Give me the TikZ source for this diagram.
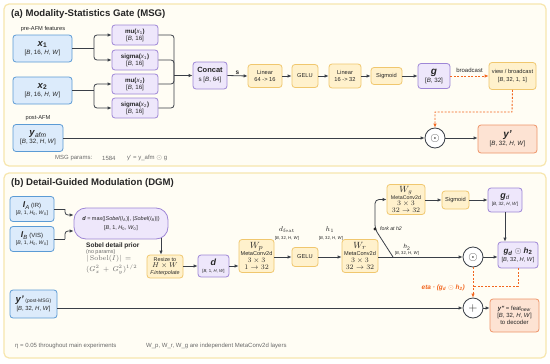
\documentclass[tikz,border=0pt]{standalone}
\usepackage[no-math]{fontspec}
\setmainfont{Liberation Sans}
\usetikzlibrary{arrows.meta,calc}
\definecolor{dark}{HTML}{3A3F47}
\definecolor{txt}{HTML}{262626}
\definecolor{bluD}{HTML}{5B9BD5}
\definecolor{bluF}{HTML}{DCEBFB}
\definecolor{purD}{HTML}{9E86D6}
\definecolor{purF}{HTML}{EEE7FB}
\definecolor{yelD}{HTML}{F0C76E}
\definecolor{yelF}{HTML}{FFF1CC}
\definecolor{orD}{HTML}{EE9468}
\definecolor{orF}{HTML}{FDE3D3}
\definecolor{panD}{HTML}{F7E6AE}
\definecolor{panF}{HTML}{FFFDF4}
\definecolor{accent}{HTML}{F2661F}
\definecolor{greyt}{HTML}{6A6A6A}
\newcommand{\fz}[1]{\fontsize{#1}{#1}\selectfont}
\newcommand{\BHW}[1]{[\textit{B}, #1, \textit{H}, \textit{W}]}
\newcommand{\Bzero}{[\textit{B}, 1, \textit{H}\textsubscript{0}, \textit{W}\textsubscript{0}]}
\tikzset{
  box/.style={rounded corners=3pt, line width=0.8pt, inner sep=0.5pt, align=center, text=txt, font=\fontsize{6.2}{7}\selectfont},
  bbox/.style={box, draw=bluD, fill=bluF},
  pbox/.style={box, draw=purD, fill=purF},
  ybox/.style={box, draw=yelD, fill=yelF},
  obox/.style={box, draw=orD, fill=orF},
  wbox/.style={ybox, font=\fontsize{5.6}{7.1}\selectfont},
  wh/.style 2 args={minimum width=#1, minimum height=#2},
  panel/.style={draw=panD, fill=panF, rounded corners=5pt, line width=1.2pt},
  opnode/.style={circle, draw=dark, fill=white, line width=0.8pt, minimum size=20pt, inner sep=0pt, text=txt},
  arr/.style={draw=dark, line width=0.8pt, -{Latex[length=4pt,width=3.5pt]}},
  ln/.style={draw=dark, line width=0.8pt},
  dsh/.style={draw=accent, line width=0.9pt, dash pattern=on 2pt off 1.5pt},
  lbl/.style={text=txt, inner sep=0pt, font=\fontsize{6}{7}\selectfont},
  ttl/.style={text=txt, inner sep=0pt, anchor=west, font=\fontsize{9.6}{11}\selectfont\bfseries},
  foot/.style={text=greyt, inner sep=0pt, font=\fontsize{6}{7}\selectfont},
}
\begin{document}
\begin{tikzpicture}[x=1pt,y=-1pt]
\useasboundingbox (0,0) rectangle (550,364);
\fill[white] (0,0) rectangle (550,364);
% panels
\draw[panel] (4,4) rectangle (546,166);
\draw[panel] (4,173) rectangle (546,358);
\node[ttl] (ta) at (11,14) {(a) Modality-Statistics Gate (MSG)};
\node[ttl] (tb) at (11,183) {(b) Detail-Guided Modulation (DGM)};

% ---------- panel (a)
\node[lbl, font=\fontsize{5.7}{6}\selectfont] (pre) at (43,29) {pre-AFM features};
\node[bbox, wh={59}{27}] (x1) at (42.5,48.5) {{\fz{9.5}\textbf{\textit{x}}\textsubscript{\textbf{1}}}\\[1pt]\BHW{16}};
\node[bbox, wh={59}{27}] (x2) at (42.5,90.5) {{\fz{9.5}\textbf{\textit{x}}\textsubscript{\textbf{2}}}\\[1pt]\BHW{16}};
\node[lbl, font=\fontsize{5.7}{6}\selectfont] (post) at (38,118) {post-AFM};
\node[bbox, wh={50}{27}] (ya) at (38,138) {{\fz{9.5}\textbf{\textit{y}}\textsubscript{\textit{afm}}}\\[1pt]\BHW{32}};

\node[pbox, wh={46}{20}] (mu1) at (135,35) {\textbf{mu(}\textit{x}\textsubscript{1}\textbf{)}\\{}[\textit{B}, 16]};
\node[pbox, wh={46}{20}] (sg1) at (135,60) {\textbf{sigma(}\textit{x}\textsubscript{1}\textbf{)}\\{}[\textit{B}, 16]};
\node[pbox, wh={46}{20}] (mu2) at (135,84) {\textbf{mu(}\textit{x}\textsubscript{2}\textbf{)}\\{}[\textit{B}, 16]};
\node[pbox, wh={46}{20}] (sg2) at (135,108) {\textbf{sigma(}\textit{x}\textsubscript{2}\textbf{)}\\{}[\textit{B}, 16]};

\node[pbox, wh={34}{27}] (cat) at (210,75.5) {{\fz{7.5}\textbf{Concat}}\\[2pt]s [\textit{B}, 64]};
\node[ybox, wh={34}{23}, font=\fontsize{5.7}{6.5}\selectfont] (l1) at (265,76) {Linear\\[1pt]64 -> 16};
\node[ybox, wh={26}{23}, font=\fontsize{5.7}{6.5}\selectfont] (ge1) at (305,76) {GELU};
\node[ybox, wh={32}{24}, font=\fontsize{5.7}{6.5}\selectfont] (l2) at (345,76) {Linear\\[1pt]16 -> 32};
\node[ybox, wh={31}{17}, font=\fontsize{5.7}{6.5}\selectfont] (sm1) at (386.5,76) {Sigmoid};
\node[pbox, wh={32}{25}] (g) at (434,76) {{\fz{10}\textbf{\textit{g}}}\\[1pt][\textit{B}, 32]};
\node[ybox, wh={47}{27}, font=\fontsize{5.7}{7}\selectfont] (vb) at (512.5,76) {view / broadcast\\[1pt][\textit{B}, 32, 1, 1]};
\node[opnode] (od1) at (435,138) {\fz{13}$\odot$};
\node[obox, wh={59}{28}] (yp) at (507.5,139) {{\fz{10}\textbf{\textit{y'}}}\\[1pt]\BHW{32}};

% connectors (a)
\coordinate (f1) at (94,48.5);
\coordinate (f2) at (94,90.5);
\draw[ln] (x1.east) -- (f1);
\draw[ln] (x2.east) -- (f2);
\draw[arr, rounded corners=3pt] (f1) |- (mu1.west);
\draw[arr, rounded corners=3pt] (f1) |- (sg1.west);
\draw[arr, rounded corners=3pt] (f2) |- (mu2.west);
\draw[arr, rounded corners=3pt] (f2) |- (sg2.west);
\coordinate (m) at (174,75.5);
\draw[ln, rounded corners=3pt] (mu1.east) -| (m);
\draw[ln, rounded corners=3pt] (sg1.east) -| (m);
\draw[ln, rounded corners=3pt] (mu2.east) -| (m);
\draw[ln, rounded corners=3pt] (sg2.east) -| (m);
\draw[arr] (m) -- (cat.west);
\draw[arr] (cat.east) -- node[above=1pt, lbl, font=\fontsize{6.5}{7}\selectfont\bfseries] (slab) {s} (l1.west);
\draw[arr] (l1) -- (ge1);
\draw[arr] (ge1) -- (l2);
\draw[arr] (l2) -- (sm1);
\draw[arr] (sm1) -- (g);
\draw[dsh, -{Latex[length=4pt,width=3.5pt]}] (g.east) -- node[above=3pt, lbl] (bcl) {broadcast} (vb.west);
\coordinate (vd) at (512,112);
\draw[dsh, -{Latex[length=4pt,width=3.5pt]}] (vb.south) -- (vd) -| (od1.north);
\draw[arr] (ya.east |- od1) -- (od1.west);
\draw[arr] (od1.east) -- (yp.west |- od1);
\node[foot, anchor=west] (fa1) at (55,158) {MSG params:};
\node[foot, anchor=west] (fa2) at (102,158) {1584};
\node[foot, anchor=west] (fa3) at (127,158) {y' = y\_afm $\odot$ g};

% ---------- panel (b)
\node[bbox, wh={44}{25}, font=\fontsize{5.2}{6}\selectfont] (ia) at (32,209) {{\fz{8.5}\textbf{\textit{I}}\textsubscript{\textit{A}}} {\fz{6}(IR)}\\[1pt]\Bzero};
\node[bbox, wh={44}{25}, font=\fontsize{5.2}{6}\selectfont] (ib) at (32,239) {{\fz{8.5}\textbf{\textit{I}}\textsubscript{\textit{B}}} {\fz{6}(VIS)}\\[1pt]\Bzero};
\node[pbox, wh={94}{31}, rounded corners=12pt, font=\fontsize{5.5}{6}\selectfont] (dm) at (121,223.5) {\textbf{\textit{d}} = max(|\textit{Sobel}(\textit{I}\textsubscript{\textit{A}})|, |\textit{Sobel}(\textit{I}\textsubscript{\textit{B}})|)\\[3pt]\Bzero};
\coordinate (ja) at (65,209);
\coordinate (jb) at (65,239);
\draw[ln] (ia.east) -- (ja);
\draw[ln] (ib.east) -- (jb);
\draw[arr, rounded corners=3pt] (ja) |- (dm.west |- 0,215);
\draw[arr, rounded corners=3pt] (jb) |- (dm.west |- 0,231);

\node[text=txt, inner sep=0pt, anchor=west, font=\fontsize{6.5}{7}\selectfont\bfseries] (sob1) at (86,246) {Sobel detail prior};
\node[text=greyt, inner sep=0pt, anchor=west, font=\fontsize{5.4}{6}\selectfont] (sob2) at (86,252.5) {(no params)};
\node[text=greyt, inner sep=0pt, anchor=west, font=\fontsize{7.2}{8}\selectfont] (sob3) at (86,259) {$|\,\mathrm{Sobel}(I)|\,=$};
\node[text=greyt, inner sep=0pt, anchor=west, font=\fontsize{7.2}{8}\selectfont] (sob4) at (86,269.5) {$(G_x^2\,+\,G_y^2)^{1/2}$};

\node[ybox, wh={36}{23}, font=\fontsize{5.4}{6.6}\selectfont] (rs) at (165,266.5) {Resize to\\{\fz{7}$H\times W$}\\[0.5pt]\textit{F.interpolate}};
\coordinate (dd) at (161,237.5);
\draw[arr] (dd) -- (dd |- rs.north);
\node[pbox, wh={31}{22}, font=\fontsize{4.3}{5}\selectfont] (d) at (213.5,266) {{\fz{9}\textbf{\textit{d}}}\\[1.5pt][\textit{B}, 1, \textit{H}, \textit{W}]};
\draw[arr] (rs.east |- d) -- (d.west);

\node[wbox, wh={35}{33}] (wp) at (256.5,256) {{\fz{9.5}$W_p$}\\MetaConv2d\\{\fz{7.2}$3\times3$}\\{\fz{7.2}$1\to32$}};
\draw[arr] (d.east) -- (d.east -| wp.west);
\node[ybox, wh={26}{19}, font=\fontsize{5.7}{6}\selectfont] (ge2) at (305,257) {GELU};
\node[wbox, wh={36}{33}] (wr) at (360,256) {{\fz{9.5}$W_r$}\\MetaConv2d\\{\fz{7.2}$3\times3$}\\{\fz{7.2}$32\to32$}};
\node[opnode] (od2) at (473,257) {\fz{13}$\odot$};
\draw[arr] (wp.east |- ge2) -- (ge2.west);
\draw[arr] (ge2.east) -- (ge2.east -| wr.west);
\draw[arr] (wr.east |- od2) -- (od2.west);

\node[lbl, font=\fontsize{7.5}{8}\selectfont] (dfl) at (287,230) {$d_{\mathrm{feat}}$};
\node[lbl, font=\fontsize{4.2}{5}\selectfont] (dfs) at (287,238) {[\textit{B}, 32, \textit{H}, \textit{W}]};
\node[lbl, font=\fontsize{7.5}{8}\selectfont] (h1l) at (330,229.5) {$h_1$};
\node[lbl, font=\fontsize{4.2}{5}\selectfont] (h1s) at (331,238) {[\textit{B}, 32, \textit{H}, \textit{W}]};
\node[lbl, font=\fontsize{6}{7}\selectfont] (h2l) at (407,247.5) {\textit{h}\textsubscript{2}};
\node[lbl, font=\fontsize{4.2}{5}\selectfont] (h2s) at (407,253) {[\textit{B}, 32, \textit{H}, \textit{W}]};

\node[wbox, wh={38}{30}, font=\fontsize{5.3}{6.8}\selectfont] (wg) at (406,199.5) {{\fz{9}$W_g$}\\MetaConv2d\\{\fz{6.6}$3\times3$}\\{\fz{6.6}$32\to32$}};
\node[ybox, wh={27}{18}, font=\fontsize{5.7}{6}\selectfont] (sm2) at (455.5,200) {Sigmoid};
\node[pbox, wh={34}{24}, font=\fontsize{4.6}{5}\selectfont] (gd) at (505,200) {{\fz{9}\textbf{\textit{g}}\textsubscript{\textit{d}}}\\[1.5pt]\BHW{32}};
\node[pbox, wh={40}{26}, font=\fontsize{5.7}{6}\selectfont] (gdh) at (518,255) {{\fz{8}\textbf{\textit{g}\textsubscript{\textit{d}} $\odot$ \textit{h}\textsubscript{2}}}\\[1.5pt]\BHW{32}};
\coordinate (fs) at (393,257);
\coordinate (fk) at (375,229);
\draw[arr, rounded corners=4pt] (fs) -- (fk) |- (wg.west);
\fill[txt] (fk) circle (1.7pt);
\node[lbl, anchor=west, font=\fontsize{5.2}{6}\selectfont\itshape] (fkl) at (380,229) {fork at h2};
\draw[arr] (wg.east |- sm2) -- (sm2.west);
\draw[arr] (sm2.east) -- (sm2.east -| gd.west);
\draw[arr] (gd.south) -- (gd.south |- gdh.north);
\draw[arr] (od2.east) -- (od2.east -| gdh.west);

\node[bbox, wh={47}{28}, font=\fontsize{5.9}{6.5}\selectfont] (yp2) at (33.5,304) {{\fz{9.5}\textbf{\textit{y'}}} {\fz{5}(post-MSG)}\\[1.5pt]\BHW{32}};
\node[opnode] (pl) at (473,308) {\fz{13}$+$};
\node[obox, wh={49}{33}, font=\fontsize{6}{7}\selectfont] (ypp) at (514.5,315.5) {\textbf{\textit{y''}} = feat\textsubscript{\textit{new}}\\\BHW{32}\\to decoder};
\draw[arr] (yp2.east |- pl) -- (pl.west);
\draw[arr] (pl.east) -- (pl.east -| ypp.west);
\coordinate (jd) at (473,286);
\draw[dsh] (gdh.south) |- (jd);
\draw[dsh, -{Latex[length=4pt,width=3.5pt]}] (od2.south) -- (pl.north);
\node[text=accent, inner sep=0pt, anchor=east, font=\fontsize{6.5}{7}\selectfont\bfseries\itshape] (eta) at (465,288) {eta · (g\textsubscript{d} $\odot$ h\textsubscript{2})};

\node[foot, anchor=west] (fb1) at (15,346) {η = 0.05 throughout main experiments};
\node[foot, anchor=west] (fb2) at (146,346) {W\_p, W\_r, W\_g are independent MetaConv2d layers};
\end{tikzpicture}
\end{document}
